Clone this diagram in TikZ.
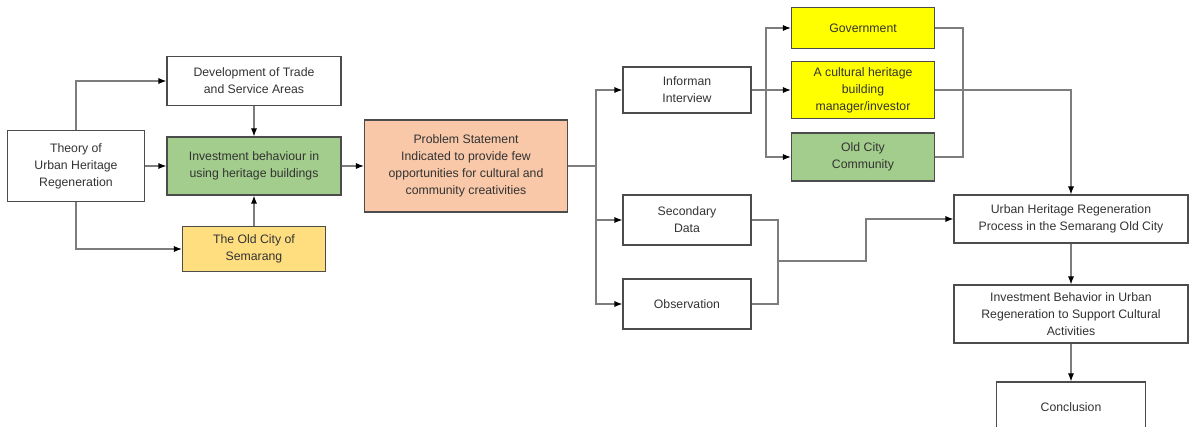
\documentclass[tikz,border=0pt]{standalone}
\usepackage{fontspec}
\setmainfont{Liberation Sans}
\usetikzlibrary{arrows.meta}
\definecolor{leafgreen}{RGB}{163,205,140}
\definecolor{sandyellow}{RGB}{255,222,128}
\definecolor{salmonpink}{RGB}{248,200,168}
\definecolor{brightyellow}{RGB}{255,255,0}
\definecolor{linegray}{RGB}{125,125,125}
\tikzset{
  box/.style={draw=black!70, line width=0.8pt, fill=white, align=center, inner sep=2pt,
    font=\fontsize{9.2}{12.75}\selectfont, text=black!80},
  conn/.style={draw=linegray, line width=0.8pt},
  arr/.style={conn, -{Latex[length=6pt,width=4.5pt,black]}},
}
\begin{document}
\begin{tikzpicture}[x=0.75pt,y=0.75pt,yscale=-1]
\useasboundingbox (0,0) rectangle (1189,427);
\clip (0,0) rectangle (1189,427);

% left part
\node[box, minimum width=137*0.75pt, minimum height=71*0.75pt] (theory) at (76,166) {Theory of\\Urban Heritage\\Regeneration};
\node[box, minimum width=174*0.75pt, minimum height=49*0.75pt] (dev) at (254,81) {Development of Trade\\and Service Areas};
\node[box, fill=leafgreen, minimum width=174*0.75pt, minimum height=58*0.75pt] (invest) at (254,166) {Investment behaviour in\\using heritage buildings};
\node[box, fill=sandyellow, minimum width=143*0.75pt, minimum height=45*0.75pt] (oldcity) at (254,249) {The Old City of\\Semarang};
\node[box, fill=salmonpink, minimum width=203*0.75pt, minimum height=92*0.75pt] (problem) at (466,166) {Problem Statement\\Indicated to provide few\\opportunities for cultural and\\community creativities};

% methods
\node[box, minimum width=128*0.75pt, minimum height=46*0.75pt] (informan) at (687,90) {Informan\\Interview};
\node[box, minimum width=128*0.75pt, minimum height=50*0.75pt] (secondary) at (687,220) {Secondary\\Data};
\node[box, minimum width=128*0.75pt, minimum height=50*0.75pt] (observation) at (687,304) {Observation};

% informants
\node[box, fill=brightyellow, minimum width=143*0.75pt, minimum height=41*0.75pt] (government) at (863,28) {Government};
\node[box, fill=brightyellow, minimum width=143*0.75pt, minimum height=57*0.75pt] (cultural) at (863,90) {A cultural heritage\\building\\manager/investor};
\node[box, fill=leafgreen, minimum width=143*0.75pt, minimum height=48*0.75pt] (community) at (863,157) {Old City\\Community};

% right column
\node[box, minimum width=234*0.75pt, minimum height=48*0.75pt] (urban) at (1071,219) {Urban Heritage Regeneration\\Process in the Semarang Old City};
\node[box, minimum width=234*0.75pt, minimum height=58*0.75pt] (behavior) at (1071,314) {Investment Behavior in Urban\\Regeneration to Support Cultural\\Activities};
\node[box, minimum width=149*0.75pt, minimum height=50*0.75pt] (conclusion) at (1071,407) {Conclusion};

% junctions
\coordinate (split) at (596,166);
\coordinate (branch) at (766,90);
\coordinate (gjoin) at (963,28);
\coordinate (merge) at (778,261);
\coordinate (bend) at (866,261);

% connectors
\draw[arr] (theory.north) |- (dev);
\draw[arr] (theory.south) |- (oldcity);
\draw[arr] (theory) -- (invest);
\draw[arr] (dev) -- (invest);
\draw[arr] (oldcity) -- (invest);
\draw[arr] (invest) -- (problem);

\draw[conn] (problem) -- (split);
\draw[arr] (split) |- (informan);
\draw[arr] (split) |- (secondary);
\draw[arr] (split) |- (observation);

\draw[conn] (informan) -- (branch);
\draw[arr] (branch) |- (government);
\draw[arr] (branch) -- (cultural);
\draw[arr] (branch) |- (community);

\draw[conn] (government) -- (gjoin) |- (community);
\draw[arr] (cultural) -| (urban);

\draw[conn] (secondary) -| (merge);
\draw[conn] (observation) -| (merge);
\draw[arr] (merge) -- (bend) |- (urban);

\draw[arr] (urban) -- (behavior);
\draw[arr] (behavior) -- (conclusion);
\end{tikzpicture}
\end{document}
